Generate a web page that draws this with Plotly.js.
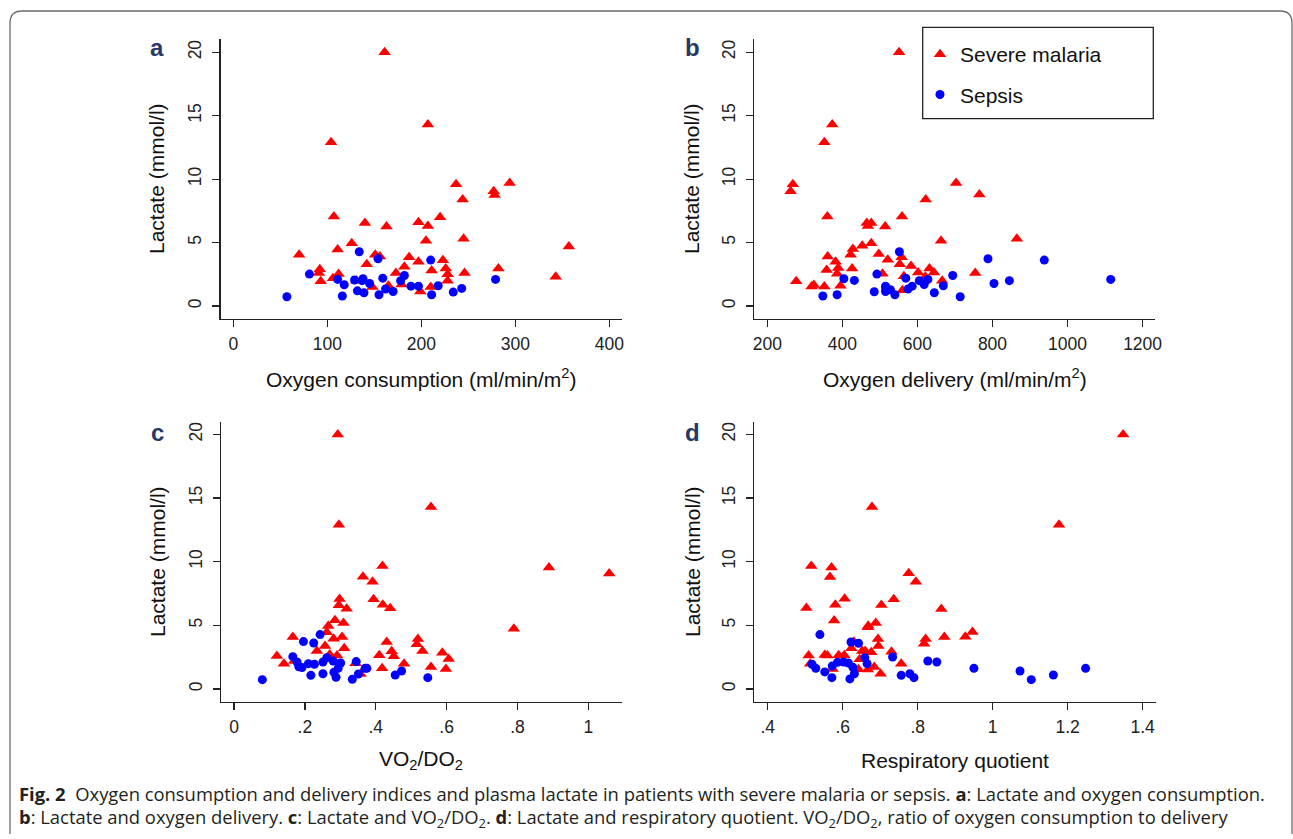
<!DOCTYPE html>
<html>
<head>
<meta charset="utf-8">
<script src="https://cdn.plot.ly/plotly-3.0.1.min.js"></script>
<style>
html,body{margin:0;padding:0;background:#fff;}
#chart{width:1293px;height:839px;}
</style>
</head>
<body>
<div id="chart"></div>
<script>
// ---- Panel a: lactate vs oxygen consumption ----
const consumptionMalariaX = [161,207,104,237,294,277,278,244,107,220,140,197,163,207,205,245,126,357,70,111,151,156,187,142,197,223,182,92,91,226,211,228,246,282,112,106,93,173,228,343,148,165,179,210,199,131];
const consumptionMalariaLactate = [20,14.3,12.9,9.6,9.7,9.05,8.75,8.4,7.06,7.0,6.55,6.6,6.27,6.3,5.14,5.3,4.95,4.7,4.04,4.45,4.05,3.9,3.85,3.3,3.5,3.6,3.1,2.9,2.6,2.95,2.8,2.5,2.6,2.95,2.52,2.2,1.95,2.6,2.0,2.3,1.5,1.6,1.7,1.5,1.15,2.0];
const consumptionSepsisX = [57,81,134,154,111,118,116,129,138,137,145,132,139,159,155,162,170,178,182,189,197,210,211,218,234,243,279];
const consumptionSepsisLactate = [0.73,2.52,4.28,3.73,2.1,1.68,0.79,2.05,2.15,2.0,1.78,1.2,1.05,2.2,0.89,1.34,1.15,2.0,2.41,1.57,1.57,3.62,0.89,1.6,1.1,1.39,2.1];

// ---- Panel b: lactate vs oxygen delivery ----
const deliveryMalariaX = [551,373,352,268,262,703,765,622,360,559,465,477,468,514,663,865,477,453,428,422,497,361,558,521,382,553,389,583,358,426,632,644,602,754,386,507,277,324,318,352,395,666,621,560,564];
const deliveryMalariaLactate = [20,14.3,12.9,9.6,9.05,9.7,8.8,8.4,7.06,7.05,6.55,6.55,6.3,6.27,5.15,5.3,4.95,4.75,4.5,4.05,4.1,3.9,3.85,3.65,3.5,3.3,3.0,3.15,2.85,2.95,2.95,2.65,2.65,2.6,2.55,2.55,1.95,1.65,1.55,1.55,1.6,2.0,2.3,1.25,2.35];
const deliverySepsisX = [348,386,404,432,492,485,515,516,515,528,540,552,569,575,586,605,618,628,645,669,694,714,788,804,845,938,1115];
const deliverySepsisLactate = [0.79,0.89,2.15,2.02,2.52,1.13,1.57,1.36,1.15,1.29,0.89,4.28,2.2,1.34,1.57,2.0,1.7,2.1,1.05,1.6,2.41,0.73,3.73,1.78,2.0,3.62,2.1];

// ---- Panel c: lactate vs VO2/DO2 ----
const ratioMalariaX = [0.293,0.556,0.296,0.419,0.889,1.059,0.364,0.391,0.298,0.296,0.394,0.420,0.318,0.441,0.285,0.309,0.266,0.262,0.790,0.166,0.281,0.305,0.257,0.311,0.234,0.431,0.445,0.451,0.519,0.516,0.532,0.410,0.588,0.606,0.121,0.141,0.270,0.291,0.480,0.418,0.556,0.598,0.357,0.343,0.170];
const ratioMalariaLactate = [20,14.3,12.9,9.66,9.55,9.08,8.82,8.43,7.07,6.57,7.04,6.62,6.31,6.34,5.39,5.18,4.95,4.45,4.74,4.08,3.95,4.08,3.38,3.19,2.98,3.69,2.96,2.57,3.93,3.51,2.98,2.64,2.85,2.36,2.59,1.99,2.70,2.62,1.99,1.62,1.73,1.57,1.18,2.02,2.2];
const ratioSepsisX = [0.080,0.196,0.225,0.243,0.166,0.178,0.183,0.192,0.210,0.227,0.217,0.251,0.251,0.262,0.280,0.301,0.294,0.282,0.288,0.334,0.351,0.345,0.370,0.375,0.455,0.473,0.547];
const ratioSepsisLactate = [0.73,3.72,3.61,4.27,2.54,2.12,1.75,1.68,1.99,1.94,1.07,1.2,2.12,2.46,2.2,2.04,1.62,1.31,0.92,0.76,1.18,2.15,1.62,1.62,1.1,1.41,0.89];

// ---- Panel d: lactate vs respiratory quotient ----
const rqMalariaX = [1.348,0.678,1.177,0.516,0.570,0.566,0.776,0.795,0.605,0.736,0.503,0.580,0.703,0.863,0.577,0.688,0.667,0.668,0.946,0.927,0.871,0.821,0.817,0.694,0.695,0.623,0.730,0.676,0.652,0.660,0.509,0.552,0.559,0.589,0.604,0.645,0.756,0.513,0.684,0.642,0.667,0.701,0.573,0.630];
const rqMalariaLactate = [20,14.3,12.9,9.66,9.55,8.8,9.1,8.43,7.09,7.04,6.36,6.62,6.6,6.28,5.37,5.18,4.84,4.97,4.48,4.11,4.08,3.93,3.56,3.93,3.38,3.19,2.93,2.88,2.98,2.98,2.62,2.67,2.62,2.64,2.64,2.33,1.99,1.99,1.73,1.54,1.52,1.2,1.57,3.7];
const rqSepsisX = [0.539,0.622,0.642,0.518,0.528,0.552,0.571,0.572,0.586,0.602,0.615,0.627,0.631,0.619,0.659,0.665,0.733,0.756,0.779,0.790,0.827,0.851,0.950,1.073,1.103,1.162,1.248];
const rqSepsisLactate = [4.27,3.69,3.59,1.94,1.62,1.34,0.89,1.81,2.09,2.12,2.04,1.7,1.2,0.79,2.46,1.99,2.51,1.07,1.2,0.89,2.2,2.12,1.62,1.41,0.73,1.1,1.62];

// ---- tick labels ----
const lactateTicks = [0,5,10,15,20];
const consumptionTicks = [0,100,200,300,400];
const deliveryTicks = [200,400,600,800,1000,1200];
const ratioTicks = [0,0.2,0.4,0.6,0.8,1];
const ratioTickText = ['0','.2','.4','.6','.8','1'];
const rqTicks = [0.4,0.6,0.8,1,1.2,1.4];
const rqTickText = ['.4','.6','.8','1','1.2','1.4'];

const groupNames = ['Severe malaria','Sepsis'];

const W = 1293, H = 839;
const px = v => v / W;
const py = v => 1 - v / H;

const malariaMarker = {symbol:'triangle-up', color:'#ff0000', size:11, line:{width:0}};
const sepsisMarker = {symbol:'circle', color:'#0000ff', size:9, line:{width:0}};

function pair(mx, my, sx, sy, xa, ya, show) {
  return [
    {type:'scatter', mode:'markers', x:mx, y:my, xaxis:xa, yaxis:ya, name:groupNames[0],
     legendgroup:'m', showlegend:show, marker:malariaMarker, cliponaxis:false},
    {type:'scatter', mode:'markers', x:sx, y:sy, xaxis:xa, yaxis:ya, name:groupNames[1],
     legendgroup:'s', showlegend:show, marker:sepsisMarker, cliponaxis:false}
  ];
}

const data = [].concat(
  pair(consumptionMalariaX, consumptionMalariaLactate, consumptionSepsisX, consumptionSepsisLactate, 'x', 'y', true),
  pair(deliveryMalariaX, deliveryMalariaLactate, deliverySepsisX, deliverySepsisLactate, 'x2', 'y2', false),
  pair(ratioMalariaX, ratioMalariaLactate, ratioSepsisX, ratioSepsisLactate, 'x3', 'y3', false),
  pair(rqMalariaX, rqMalariaLactate, rqSepsisX, rqSepsisLactate, 'x4', 'y4', false)
);

const tickFont = {family:'Liberation Sans, Arial, sans-serif', size:17.5, color:'#222'};
function xax(domain, range, vals, text, anchor) {
  const a = {domain:domain, range:range, anchor:anchor, showline:true, linecolor:'#222', linewidth:1.3,
    ticks:'outside', ticklen:7, tickwidth:1.3, tickcolor:'#222', showgrid:false, zeroline:false,
    tickmode:'array', tickvals:vals, tickfont:tickFont, ticklabelstandoff:2, fixedrange:true};
  if (text) a.ticktext = text;
  return a;
}
function yax(domain, range, anchor) {
  return {domain:domain, range:range, anchor:anchor, showline:true, linecolor:'#222', linewidth:1.3,
    ticks:'outside', ticklen:7, tickwidth:1.3, tickcolor:'#222', showgrid:false, zeroline:false,
    tickmode:'array', tickvals:lactateTicks, tickangle:-90, tickfont:tickFont, ticklabelstandoff:4, fixedrange:true};
}

const topY = [py(319), py(39.3)];
const botY = [py(701.7), py(422.3)];

const titleFont = {family:'Liberation Sans, Arial, sans-serif', size:21, color:'#111'};
const letterFont = {family:'Liberation Sans, Arial, sans-serif', size:24, color:'#263868'};
const capFont = {family:'Open Sans, sans-serif', size:18.4, color:'#231f20'};

function ann(text, x, y, font, extra) {
  return Object.assign({text:text, x:px(x), y:py(y), xref:'paper', yref:'paper', showarrow:false,
    xanchor:'center', yanchor:'middle', font:font}, extra || {});
}

const annotations = [
  ann('<b>a</b>', 157, 48, letterFont),
  ann('<b>b</b>', 692, 48, letterFont),
  ann('<b>c</b>', 157, 432, letterFont),
  ann('<b>d</b>', 692, 432, letterFont),
  ann('Lactate (mmol/l)', 157, 179, titleFont, {textangle:-90}),
  ann('Lactate (mmol/l)', 692, 179, titleFont, {textangle:-90}),
  ann('Lactate (mmol/l)', 157, 562, titleFont, {textangle:-90}),
  ann('Lactate (mmol/l)', 692, 562, titleFont, {textangle:-90}),
  ann('Oxygen consumption (ml/min/m<sup>2</sup>)', 421, 378, titleFont),
  ann('Oxygen delivery (ml/min/m<sup>2</sup>)', 955, 378, titleFont),
  ann('VO<sub>2</sub>/DO<sub>2</sub>', 421, 760, titleFont),
  ann('Respiratory quotient', 955, 760, titleFont),
  ann('<b>Fig. 2</b>  Oxygen consumption and delivery indices and plasma lactate in patients with severe malaria or sepsis. <b>a</b>: Lactate and oxygen consumption.', 17, 793, capFont, {xanchor:'left'}),
  ann('<b>b</b>: Lactate and oxygen delivery. <b>c</b>: Lactate and VO<sub>2</sub>/DO<sub>2</sub>. <b>d</b>: Lactate and respiratory quotient. VO<sub>2</sub>/DO<sub>2</sub>, ratio of oxygen consumption to delivery', 17, 818, capFont, {xanchor:'left'})
];

// rounded outer frame (decoration)
const fx0 = px(10), fx1 = px(1292), fyT = py(11), fyB = py(846);
const rx = 12 / W, ry = 12 / H;
const framePath = `M ${fx0},${fyB+ry} L ${fx0},${fyT-ry} Q ${fx0},${fyT} ${fx0+rx},${fyT} L ${fx1-rx},${fyT} Q ${fx1},${fyT} ${fx1},${fyT-ry} L ${fx1},${fyB+ry}`;

const shapes = [
  {type:'path', path:framePath, xref:'paper', yref:'paper', line:{color:'#6b6b6b', width:1.3}},
  {type:'rect', xref:'paper', yref:'paper', x0:px(922.7), x1:px(1153.3), y0:py(118.7), y1:py(27.3),
   line:{color:'#222', width:1.3}, fillcolor:'rgba(0,0,0,0)'}
];

const layout = {
  width:W, height:H,
  margin:{l:0, r:0, t:0, b:0},
  paper_bgcolor:'#fff', plot_bgcolor:'#fff',
  showlegend:true,
  legend:{x:px(920), y:py(34), xanchor:'left', yanchor:'top', bgcolor:'rgba(0,0,0,0)', borderwidth:0,
    font:{family:'Liberation Sans, Arial, sans-serif', size:21, color:'#111'},
    traceorder:'grouped', tracegroupgap:10, itemclick:false, itemdoubleclick:false},
  xaxis: xax([px(220.7), px(621.7)], [-13.4, 413.2], consumptionTicks, null, 'y'),
  yaxis: yax(topY, [-1.02, 21.02], 'x'),
  xaxis2: xax([px(754.3), px(1155)], [165.4, 1233], deliveryTicks, null, 'y2'),
  yaxis2: yax(topY, [-1.02, 21.02], 'x2'),
  xaxis3: xax([px(221), px(622.3)], [-0.0367, 1.096], ratioTicks, ratioTickText, 'y3'),
  yaxis3: yax(botY, [-1.0, 20.95], 'x3'),
  xaxis4: xax([px(754.3), px(1155.7)], [0.364, 1.435], rqTicks, rqTickText, 'y4'),
  yaxis4: yax(botY, [-1.0, 20.95], 'x4'),
  annotations: annotations,
  shapes: shapes,
  hovermode:false
};

Plotly.newPlot('chart', data, layout, {staticPlot:true, displayModeBar:false});
</script>
</body>
</html>
